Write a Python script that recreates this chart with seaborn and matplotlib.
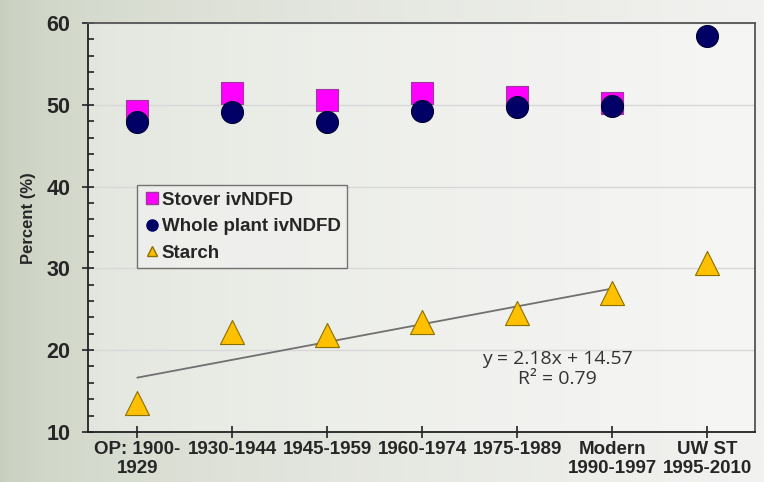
import numpy as np
import pandas as pd
import matplotlib
matplotlib.use("Agg")
import matplotlib.pyplot as plt
from matplotlib.ticker import MultipleLocator
from matplotlib.lines import Line2D
import seaborn as sns

categories = ["OP: 1900-\n1929", "1930-1944", "1945-1959", "1960-1974",
              "1975-1989", "Modern\n1990-1997", "UW ST\n1995-2010"]
stover = [49.3, 51.5, 50.6, 51.4, 51.0, 50.2, np.nan]
whole_plant = [47.9, 49.1, 47.9, 49.2, 49.7, 49.9, 58.4]
starch = [13.5, 22.2, 21.8, 23.4, 24.6, 27.0, 30.7]
eq_text = "y = 2.18x + 14.57\nR² = 0.79"

df = pd.DataFrame({"pos": np.arange(len(categories)), "stover": stover,
                   "whole": whole_plant, "starch": starch})

sns.set_theme(style="white")
plt.rcParams["font.family"] = ["Liberation Sans", "DejaVu Sans"]

fig = plt.figure(figsize=(7.64, 4.82), dpi=100)

# background gradient (green-grey on the left, pale grey on the right)
bg = fig.add_axes([0, 0, 1, 1], zorder=-10)
grad = np.linspace(0, 1, 256) ** 0.5
left_c = np.array([198, 206, 188]) / 255
right_c = np.array([242, 242, 240]) / 255
img = left_c[None, :] * (1 - grad[:, None]) + right_c[None, :] * grad[:, None]
bg.imshow(img[None, :, :], aspect="auto", extent=[0, 1, 0, 1])
bg.axis("off")

ax = fig.add_axes([0.115, 0.104, 0.873, 0.848])
ax.patch.set_facecolor("white")
ax.patch.set_alpha(0.35)

sns.regplot(data=df.iloc[:6], x="pos", y="starch", scatter=False, ci=None,
            color="#707070", line_kws={"lw": 1.3, "zorder": 2}, ax=ax)

sns.scatterplot(data=df, x="pos", y="stover", marker="s", s=230,
                color="#FF00FF", edgecolor="#9a3a9a", linewidth=0.8, zorder=3, ax=ax)
sns.scatterplot(data=df, x="pos", y="whole", marker="o", s=250,
                color="#000066", edgecolor="#000033", linewidth=0.8, zorder=4, ax=ax)
sns.scatterplot(data=df, x="pos", y="starch", marker="^", s=300,
                color="#FFC000", edgecolor="#8a7000", linewidth=0.8, zorder=4, ax=ax)

ax.set_xlim(-0.52, 6.5)
ax.set_ylim(10, 60)
ax.yaxis.set_major_locator(MultipleLocator(10))
ax.yaxis.set_minor_locator(MultipleLocator(2))
ax.set_xticks(df["pos"])
ax.set_xticklabels(categories, fontsize=13.5, fontweight="bold", linespacing=1.2)
ax.tick_params(axis="y", which="major", labelsize=15.5, direction="inout",
               length=9, width=1.2, color="#222222", left=True, pad=8)
ax.tick_params(axis="y", which="minor", direction="in", length=4,
               width=1.2, color="#222222", left=True)
ax.tick_params(axis="x", direction="inout", length=9, width=1.2,
               color="#222222", bottom=True, pad=2)
for lbl in ax.get_yticklabels():
    lbl.set_fontweight("bold")

ax.grid(axis="y", color="#d8d8d8", lw=1)
for side in ["left", "bottom"]:
    ax.spines[side].set_color("#222222")
    ax.spines[side].set_linewidth(1.3)
for side in ["top", "right"]:
    ax.spines[side].set_color("#555555")
    ax.spines[side].set_linewidth(1.3)

ax.set_xlabel("")
ax.set_ylabel("Percent (%)", fontsize=12, fontweight="bold")
ax.yaxis.set_label_coords(-0.078, 0.522)

ax.text(4.42, 17.7, eq_text, ha="center", va="center", fontsize=14,
        color="#333333", linespacing=1.2, family=["Open Sans", "DejaVu Sans"])

handles = [
    Line2D([], [], marker="s", ls="", color="#FF00FF", markeredgecolor="#9a3a9a", markersize=8),
    Line2D([], [], marker="o", ls="", color="#000066", markersize=8),
    Line2D([], [], marker="^", ls="", color="#FFC000", markeredgecolor="#8a7000", markersize=7),
]
leg = ax.legend(handles, ["Stover ivNDFD", "Whole plant ivNDFD", "Starch"],
                loc="upper left", bbox_to_anchor=(0.073, 0.604), frameon=True,
                fancybox=False, handletextpad=0.0, handlelength=1.0,
                borderpad=0.35, labelspacing=0.5, borderaxespad=0,
                prop={"weight": "bold", "size": 13.5})
leg.get_frame().set_edgecolor("#555555")
leg.get_frame().set_linewidth(1.0)
leg.get_frame().set_facecolor("#f0f0ee")

fig.savefig("out.png", dpi=100)
